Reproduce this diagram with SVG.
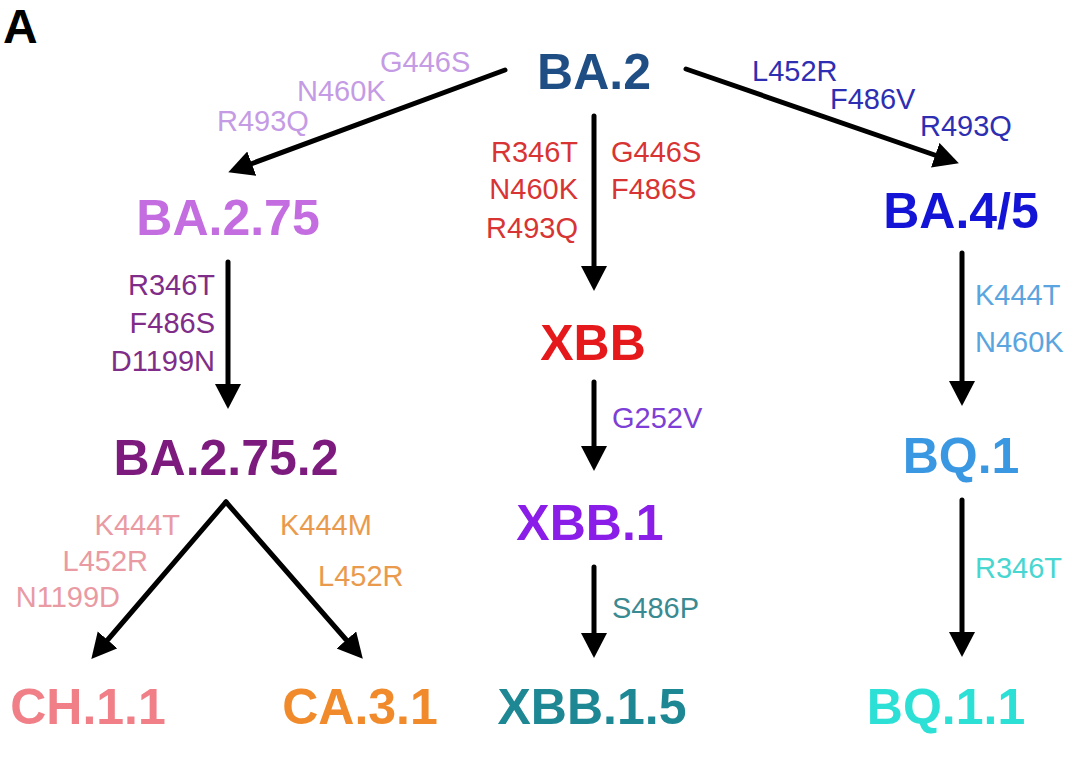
<svg xmlns="http://www.w3.org/2000/svg" width="1080" height="770" viewBox="0 0 1080 770">
<style>
.node{font-family:"Liberation Sans",Arial,sans-serif;font-weight:bold;font-size:50px;text-anchor:middle}
.lab{font-family:"Liberation Sans",Arial,sans-serif;font-size:29px}
.e{text-anchor:end}
.conn line{stroke:#000;stroke-width:5;marker-end:url(#ah);stroke-linecap:round}
</style>
<defs>
<marker id="ah" markerUnits="userSpaceOnUse" markerWidth="28" markerHeight="28" refX="4" refY="13" orient="auto" viewBox="0 0 28 28">
<path d="M0,0 L25,13 L0,26 z" fill="#000"/>
</marker>
</defs>
<rect width="1080" height="770" fill="#fff"/>
<g id="panel-label"><text x="3" y="43" font-family="Liberation Sans,Arial,sans-serif" font-weight="bold" font-size="48" fill="#000">A</text></g>
<g id="connectors" class="conn">
<line x1="505" y1="70" x2="248" y2="165"/>
<line x1="686" y1="69" x2="939" y2="156.5"/>
<line x1="594" y1="116" x2="594" y2="270"/>
<line x1="228" y1="262" x2="228" y2="388"/>
<line x1="594" y1="382" x2="594" y2="450"/>
<line x1="594" y1="567" x2="594" y2="637"/>
<line x1="962" y1="253" x2="962" y2="385"/>
<line x1="962" y1="500" x2="962" y2="636"/>
<line x1="226" y1="502" x2="105" y2="643"/>
<line x1="226" y1="502" x2="349" y2="643"/>
</g>
<g id="labels-ba275" class="lab" fill="#c49be4">
<text x="380" y="72">G446S</text>
<text x="297" y="101">N460K</text>
<text x="217" y="131">R493Q</text>
</g>
<g id="labels-ba45" class="lab" fill="#2e2eb3">
<text x="752" y="81">L452R</text>
<text x="830" y="109">F486V</text>
<text x="920" y="136">R493Q</text>
</g>
<g id="labels-xbb" class="lab" fill="#d83434">
<text class="e" x="578" y="162">R346T</text>
<text class="e" x="578" y="199">N460K</text>
<text class="e" x="578" y="238">R493Q</text>
<text x="611" y="162">G446S</text>
<text x="611" y="199">F486S</text>
</g>
<g id="labels-ba2752" class="lab" fill="#7f2d88">
<text class="e" x="215" y="295">R346T</text>
<text class="e" x="215" y="333">F486S</text>
<text class="e" x="215" y="371">D1199N</text>
</g>
<g id="labels-bq1" class="lab" fill="#5aa5e0">
<text x="975" y="305">K444T</text>
<text x="975" y="352">N460K</text>
</g>
<g id="labels-xbb1" class="lab" fill="#7d3fd6">
<text x="612" y="428">G252V</text>
</g>
<g id="labels-ch11" class="lab" fill="#e99aa3">
<text class="e" x="180" y="535">K444T</text>
<text class="e" x="148" y="571">L452R</text>
<text class="e" x="120" y="607">N1199D</text>
</g>
<g id="labels-ca31" class="lab" fill="#ea9a4c">
<text x="280" y="535">K444M</text>
<text x="318" y="586">L452R</text>
</g>
<g id="labels-xbb15" class="lab" fill="#3a8a92">
<text x="612" y="618">S486P</text>
</g>
<g id="labels-bq11" class="lab" fill="#48d6d0">
<text x="975" y="578">R346T</text>
</g>
<g id="node-BA2"><text class="node" x="594" y="89" font-size="48" fill="#1f4e85">BA.2</text></g>
<g id="node-BA275"><text class="node" x="228" y="235" fill="#c36de0">BA.2.75</text></g>
<g id="node-BA45"><text class="node" x="961" y="228" fill="#1414d6">BA.4/5</text></g>
<g id="node-XBB"><text class="node" x="593" y="360" fill="#e5191b">XBB</text></g>
<g id="node-BA2752"><text class="node" x="226" y="475" fill="#7c1a7e">BA.2.75.2</text></g>
<g id="node-BQ1"><text class="node" x="961" y="473" fill="#3a98e3">BQ.1</text></g>
<g id="node-XBB1"><text class="node" x="590" y="540" fill="#8a1ee8">XBB.1</text></g>
<g id="node-CH11"><text class="node" x="88" y="724" fill="#f07f87">CH.1.1</text></g>
<g id="node-CA31"><text class="node" x="360" y="724" fill="#f08a2a">CA.3.1</text></g>
<g id="node-XBB15"><text class="node" x="592" y="724" fill="#1d8793">XBB.1.5</text></g>
<g id="node-BQ11"><text class="node" x="946" y="724" fill="#2de0d6">BQ.1.1</text></g>
</svg>
